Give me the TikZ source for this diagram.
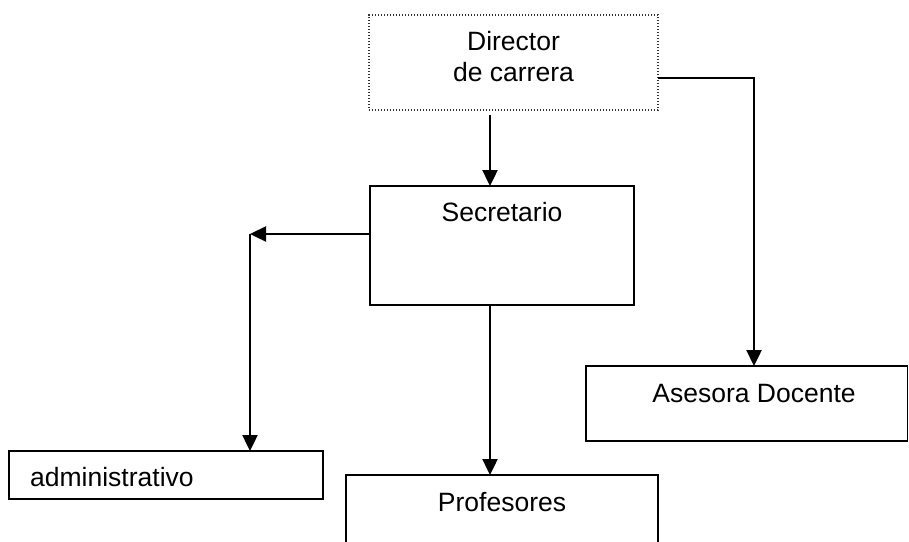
\documentclass[tikz,border=0pt]{standalone}
\usepackage{fontspec}
\setmainfont{Liberation Sans}
\usetikzlibrary{arrows.meta,calc}
\begin{document}
\begin{tikzpicture}[x=1pt,y=-1pt,
  box/.style={draw, line width=1.8pt, rectangle, inner sep=0pt, outer sep=0pt, anchor=north west},
  dotbox/.style={box, draw=black!80, line width=1.3pt, dash pattern=on 1.2pt off 1.8pt},
  lbl/.style={inner sep=0pt, anchor=base, font=\fontsize{26.5}{31}\selectfont},
  arr/.style={line width=2.4pt, -{Triangle[length=16pt,width=15pt]}}]
\useasboundingbox (0,0) rectangle (909,541);
\clip (0,0) rectangle (909,541);
% boxes
\node[dotbox, minimum width=289pt, minimum height=95pt] (dir) at (369,15) {};
\node[box, minimum width=264pt, minimum height=119pt] (sec) at (370,186) {};
\node[box, minimum width=314pt, minimum height=48pt] (adm) at (9,451) {};
\node[box, minimum width=312pt, minimum height=95pt] (prof) at (346,475) {};
\node[box, minimum width=321.5pt, minimum height=75pt] (ases) at (586,366) {};
% texts
\node[lbl] (t1) at (513.5,50) {Director};
\node[lbl] (t2) at (513.5,81) {de carrera};
\node[lbl] (t3) at (502,221) {Secretario};
\node[lbl, anchor=base west] (t4) at (30,486) {administrativo};
\node[lbl] (t5) at (502,511) {Profesores};
\node[lbl] (t6) at (754,402) {Asesora Docente};
% connectors
\coordinate (a1) at ([xshift=-12pt]sec.north);
\draw[arr] ($(a1 |- dir.south)+(0,5)$) -- (a1);
\coordinate (a2) at ([xshift=-12pt]sec.south);
\draw[arr] (a2) -- (a2 |- prof.north);
\coordinate (a3) at ([xshift=7.25pt]ases.north);
\draw[arr] ([yshift=-15.5pt]dir.east) -| (a3);
\coordinate (elb) at (250,234);
\draw[arr] (elb -| sec.west) -- (elb);
\draw[arr] (elb) -- (elb |- adm.north);
\end{tikzpicture}
\end{document}
